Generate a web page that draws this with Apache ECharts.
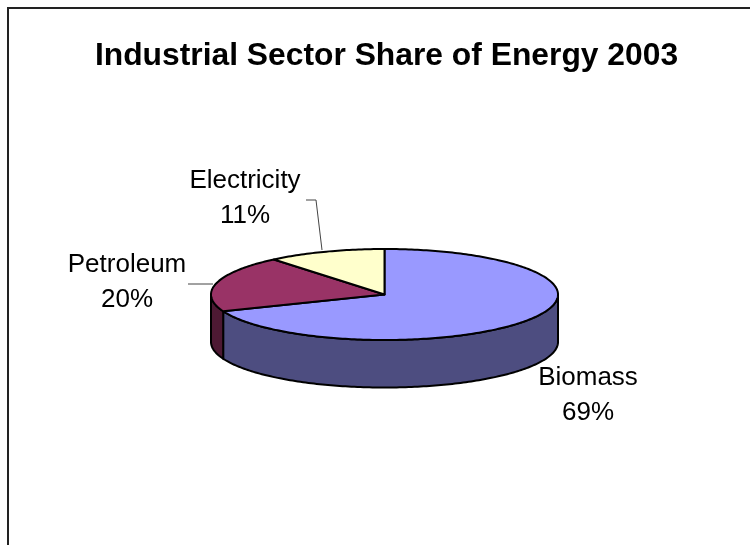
<!DOCTYPE html>
<html>
<head>
<meta charset="utf-8">
<style>html,body{margin:0;padding:0;background:#fff}#c{width:750px;height:545px}</style>
<script src="https://cdn.jsdelivr.net/npm/echarts@6/dist/echarts.min.js"></script>
</head>
<body>
<div id="c"></div>
<script>
const titleText = 'Industrial Sector Share of Energy 2003';
const categories = ['Biomass', 'Petroleum', 'Electricity'];
const values = [69, 20, 11];
const topColors = ['#9999FF', '#993366', '#FFFFCC'];
const sideColors = ['#4D4D80', '#4D1933', '#808066'];
const labelAnchors = [[588, 395.5], [127, 282.5], [245, 198.5]];
const leaders = [null, [[188, 284], [213, 284]], [[306, 200], [316, 200], [322, 250]]];

const CX = 384.5, CY = 294.5, RX = 173.5, RY = 45.5, DEPTH = 47.5;
const total = values.reduce((a, b) => a + b, 0);
const pt = (deg, dy) => {
  const r = deg * Math.PI / 180;
  return [CX + RX * Math.sin(r), CY - RY * Math.cos(r) + (dy || 0)];
};
const arc = (a, b, dy) => {
  const out = [];
  for (let d = a; d < b; d += 1) out.push(pt(d, dy));
  out.push(pt(b, dy));
  return out;
};
const stroke = { stroke: '#000', lineWidth: 2, lineJoin: 'round' };

function renderItem(params, api) {
  const i = params.dataIndex;
  let before = 0;
  for (let k = 0; k < i; k++) before += values[k];
  const a0 = before / total * 360;
  const a1 = a0 + api.value(0) / total * 360;
  const children = [];
  const s0 = Math.max(a0, 90), s1 = Math.min(a1, 270);
  if (s1 > s0) {
    const side = arc(s0, s1, 0).concat(arc(s0, s1, DEPTH).reverse());
    children.push({
      type: 'polygon', shape: { points: side },
      style: Object.assign({ fill: sideColors[i] }, stroke)
    });
  }
  const top = [[CX, CY]].concat(arc(a0, a1, 0));
  children.push({
    type: 'polygon', shape: { points: top },
    style: Object.assign({ fill: topColors[i] }, stroke)
  });
  if (leaders[i]) {
    children.push({
      type: 'polyline', shape: { points: leaders[i] },
      style: { fill: null, stroke: '#444', lineWidth: 1 }
    });
  }
  children.push({
    type: 'text',
    style: {
      x: labelAnchors[i][0], y: labelAnchors[i][1],
      text: categories[i] + '\n' + api.value(0) + '%',
      align: 'center', verticalAlign: 'middle',
      font: '26px "Liberation Sans", Arial, sans-serif',
      lineHeight: 35, fill: '#000'
    }
  });
  return { type: 'group', children };
}

const chart = echarts.init(document.getElementById('c'), null, { renderer: 'canvas' });
chart.setOption({
  animation: false,
  backgroundColor: '#fff',
  title: {
    text: titleText, left: 381.5, top: 35, textAlign: 'center',
    textStyle: { fontFamily: '"Liberation Sans", Arial, sans-serif', fontSize: 31.8, fontWeight: 'bold', color: '#000' }
  },
  graphic: [{
    type: 'polyline', silent: true,
    shape: { points: [[8, 545], [8, 8], [750, 8]] },
    style: { fill: null, stroke: '#222', lineWidth: 2 }
  }],
  series: [{
    type: 'custom', coordinateSystem: 'none',
    renderItem,
    data: values.map(v => [v])
  }]
});
</script>
</body>
</html>
